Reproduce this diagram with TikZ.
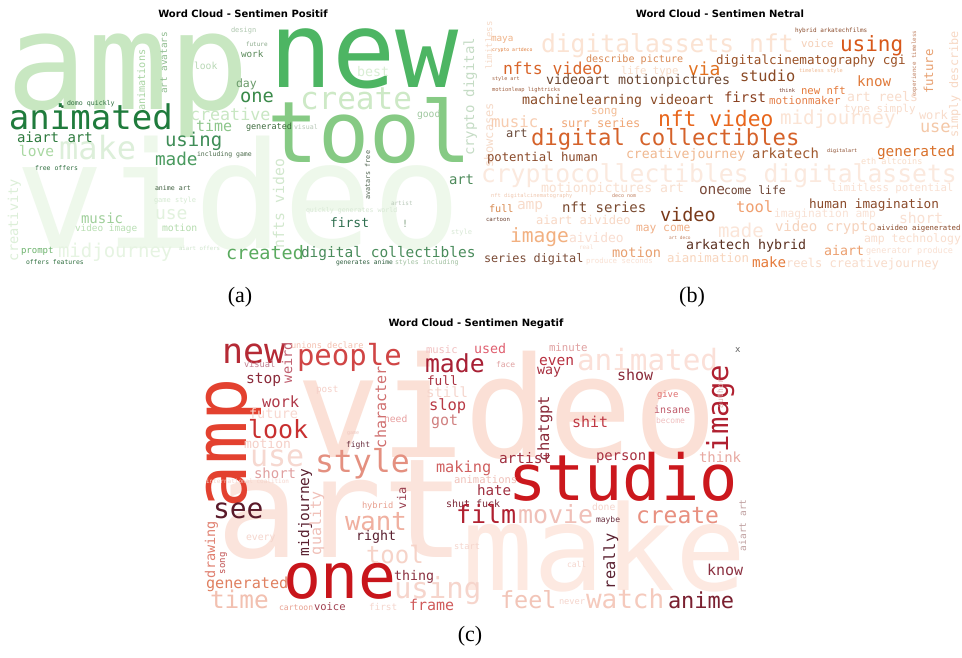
\documentclass[tikz,border=0pt]{standalone}
\usepackage{fontspec}
\setmainfont{Liberation Serif}
\newfontfamily\wcfont{DejaVu Sans Mono}
\newfontfamily\titlefont{DejaVu Sans}
\newcount\wcn
\tikzset{
  wordnode/.style={inner sep=0pt, outer sep=0pt, anchor=base west},
  titlestyle/.style={inner sep=0pt, font={\titlefont\bfseries\fontsize{10}{10}\selectfont}, text=black},
  capstyle/.style={inner sep=0pt, font={\fontsize{22}{22}\selectfont}, text=black}
}
\newcommand{\wc}[6][0]{%
  \global\advance\wcn by 1
  \definecolor{wctmp}{HTML}{#5}%
  \node[wordnode, rotate=#1, text=wctmp, font={\wcfont\fontsize{#4}{#4}\selectfont}] (w\the\wcn) at (#2,#3) {#6};}
\begin{document}
\begin{tikzpicture}[x=1pt,y=-1pt]
\fill[white] (0,0) rectangle (962,658);
\useasboundingbox (0,0) rectangle (962,658);
% ---------------- (a) positive ----------------
\wc{16}{248}{148}{EEF8EB}{video}
\wc{6}{110}{135}{C8E7C1}{amp}
\wc{269}{88}{105}{4DB563}{new}
\wc{267}{163}{85}{86CA84}{tool}
\wc{59}{160}{32}{DDEFDA}{make}
\wc{300}{110}{31}{CDE9C6}{create}
\wc{58}{257}{19}{E6F4E2}{midjourney}
\wc{155}{220}{18}{E2F2DE}{use}
\wc{9}{130}{34}{1F7B3C}{animated}
\wc{190}{121}{16.7}{C9E7C3}{creative}
\wc{196}{132}{15}{8DC68B}{time}
\wc{165}{147}{19}{3F8D57}{using}
\wc{155}{166}{17.7}{4A9A5F}{made}
\wc{17}{143}{14}{2D7A3D}{aiart art}
\wc{19}{157}{14.6}{A9D8A2}{love}
\wc{240}{103}{18.7}{3A8A4A}{one}
\wc{236}{88}{11.5}{6A9A6A}{day}
\wc{241}{58}{9.3}{5A8A5A}{work}
\wc{246}{47}{6}{8AA98A}{future}
\wc{231}{33}{7}{B0C8B0}{design}
\wc{194}{70}{9.7}{B8D8B5}{look}
\wc{357}{77}{13.3}{D9EED4}{best}
\wc{417}{118}{9.7}{A0C8A0}{good}
\wc[90]{474}{156}{14}{C5DCC5}{crypto digital}
\wc[90]{167}{94}{9.4}{8FBC8F}{art avatars}
\wc[90]{145}{111}{10.2}{A8D4A2}{animations}
\wc{67}{106}{6.6}{2F6F3F}{domo quickly}
\wc{57}{109}{18}{2F6F3F}{.}
\wc{35}{171}{6.5}{2F6F3F}{free offers}
\wc{197}{157}{6.5}{4A6A4A}{including game}
\wc[90]{18}{261}{13.6}{DCEFD8}{creativity}
\wc{81}{223}{14}{9FCF9A}{music}
\wc{75}{232}{9.4}{B9DFB3}{video image}
\wc{162}{231}{9.8}{B5DCAE}{motion}
\wc{155}{190}{6.6}{3F5F3F}{anime art}
\wc{154}{203}{7}{D5EAD2}{game style}
\wc{21}{253}{9}{6DB36D}{prompt}
\wc{26}{265}{6.4}{2F6F3F}{offers features}
\wc{179}{251}{5.7}{CFE5CC}{aiart offers}
\wc{246}{130}{8.5}{3D6B3D}{generated}
\wc{294}{130}{6.6}{B8C8B8}{visual}
\wc[90]{284}{248}{14.8}{D2E8CE}{nfts video}
\wc[90]{370}{200}{6.8}{4F634F}{avatars free}
\wc{449}{185}{13.9}{4D8A5A}{art}
\wc{391}{206}{6}{B8C8B8}{artist}
\wc{306}{213}{6.6}{D8E8D5}{quickly generates world}
\wc{330}{227}{13}{2F6F4F}{first}
\wc{402}{227}{10}{8AA88A}{!}
\wc{451}{234}{7}{D8E8D5}{style}
\wc{226}{259}{18.5}{5AAA5F}{created}
\wc{301}{258}{14.5}{4A8C5C}{digital collectibles}
\wc{336}{264}{6.3}{2F5F3F}{generates anime}
\wc{395}{264}{6.6}{A0C0A0}{styles including}
% ---------------- (b) neutral ----------------
\wc{481}{183}{24.7}{FBE9DE}{cryptocollectibles digitalassets}
\wc{541}{53}{24.7}{FBE3D3}{digitalassets nft}
\wc[90]{492}{70}{9}{F6DAC8}{limitless}
\wc[90]{493}{168}{12}{F6DAC8}{showcases}
\wc{491}{42}{9.3}{F0B48A}{maya}
\wc{492}{52}{4.8}{E08040}{crypto artdeco}
\wc{586}{63}{10.1}{D98A55}{describe picture}
\wc{503}{75}{16.5}{D9652A}{nfts video}
\wc{621}{75}{10.6}{F8DCC8}{life type}
\wc{688}{76}{18}{E0701F}{via}
\wc{492}{81}{5.1}{A06040}{style art}
\wc{492}{92}{5.4}{A06040}{motionleap lightricks}
\wc{546}{85}{13.3}{6B4530}{videoart motionpictures}
\wc{522}{105}{13.3}{8A4A25}{machinelearning videoart}
\wc{591}{115}{11}{F4BD95}{song}
\wc{491}{128}{15.7}{F7CCB0}{music}
\wc{561}{128}{12}{F0A878}{surr series}
\wc{658}{127}{21.3}{E8661C}{nft video}
\wc{506}{138}{12}{6A4A3A}{art}
\wc{531}{146}{22.3}{D5622A}{digital collectibles}
\wc{795}{33}{6}{8A4A2A}{hybrid arkatechfilms}
\wc{801}{48}{10.8}{F5D0B8}{voice}
\wc{840}{52}{21}{D8581A}{using}
\wc[90]{916}{97}{5.8}{C08060}{experience timeless}
\wc[90]{933}{94}{12.4}{E8A070}{future}
\wc[90]{958}{138}{11.8}{F7D8C4}{simply describe}
\wc{716}{65}{12.6}{9A5025}{digitalcinematography cgi}
\wc{799}{73}{5.2}{F0B890}{timeless style}
\wc{740}{82}{15.3}{8A4A25}{studio}
\wc{857}{87}{14.2}{E07A3A}{know}
\wc{779}{93}{5.3}{7A4030}{think}
\wc{801}{95}{10.6}{E57A3A}{new nft}
\wc{847}{102}{13.1}{F8DCCB}{art reels}
\wc{724}{103}{14}{8A4020}{first}
\wc{769}{105}{10.8}{E5804A}{motionmaker}
\wc{844}{113}{10.8}{F8DCCB}{type simply}
\wc{780}{125}{19.2}{FBE4D5}{midjourney}
\wc{919}{120}{12}{F8DCCB}{work}
\wc{920}{133}{17}{F4C8A8}{use}
\wc{487}{162}{12.3}{8A4A2A}{potential human}
\wc{626}{159}{13.2}{F0B890}{creativejourney}
\wc{752}{159}{13.9}{A05A30}{arkatech}
\wc{827}{153}{5}{8A4A2A}{digitalart}
\wc{877}{157}{14.4}{D9702A}{generated}
\wc{861}{165}{8.5}{F8DCC8}{eth altcoins}
\wc{541}{193}{13.2}{F8DFCF}{motionpictures art}
\wc{699}{195}{14.5}{7A4A3A}{one}
\wc{724}{195}{11.4}{6A4030}{come life}
\wc{831}{192}{10.7}{F9E0D2}{limitless potential}
\wc{491}{198}{5.4}{F0C8B0}{nft digitalcinematography}
\wc{612}{198}{5}{C08060}{deco nom}
\wc{489}{212}{10.2}{D88A50}{full}
\wc{517}{210}{14.5}{F8DCCB}{amp}
\wc{562}{213}{14}{7A4A30}{nft series}
\wc{660}{222}{18.5}{7A3A1A}{video}
\wc{736}{212}{15.5}{F0A070}{tool}
\wc{809}{208}{12.7}{8A4A2A}{human imagination}
\wc{486}{222}{5.7}{6A4030}{cartoon}
\wc{536}{225}{12.1}{F8D8C5}{aiart aivideo}
\wc{774}{218}{11.3}{F9E2D5}{imagination amp}
\wc{899}{223}{14.7}{F9E0D2}{short}
\wc{636}{232}{11.3}{F0B088}{may come}
\wc{718}{237}{19}{FBE5D8}{made}
\wc{775}{232}{14.1}{F6D3BD}{video crypto}
\wc{877}{230}{7.3}{8A4A2A}{aivideo aigenerated}
\wc{510}{243}{19.6}{F2B080}{image}
\wc{569}{243}{13}{F9DDD0}{aivideo}
\wc{669}{240}{4.5}{C08060}{art deco}
\wc{864}{243}{11.5}{F9DECE}{amp technology}
\wc{686}{250}{13.3}{5A3020}{arkatech hybrid}
\wc{824}{255}{13.3}{ECA070}{aiart}
\wc{866}{253}{8.5}{F9E0D2}{generator produce}
\wc{579}{250}{6}{F9E0D2}{real}
\wc{612}{258}{13.6}{E8A070}{motion}
\wc{484}{262}{11.8}{7A4A35}{series digital}
\wc{586}{263}{7.4}{F9E0D2}{produce seconds}
\wc{667}{262}{12.4}{F8D5BD}{aianimation}
\wc{752}{267}{14.2}{E57A3A}{make}
\wc{786}{267}{12.1}{F8DCCB}{reels creativejourney}
% ---------------- (c) negative ----------------
\wc{296}{457}{140}{FBE0D6}{video}
\wc{216}{557}{138}{FBE4DC}{art}
\wc{462}{590}{118}{FDE9E1}{make}
\wc{508}{500}{63.6}{CB181D}{studio}
\wc{283}{598}{63}{C8151B}{one}
\wc[90]{246}{508}{72}{E3412F}{amp}
\wc{222}{363}{35}{B52A35}{new}
\wc[90]{292}{383}{13.6}{C06070}{weird}
\wc{291}{348}{8.6}{F4C0B0}{unions declare}
\wc{297}{365}{29}{D04545}{people}
\wc{244}{367}{8.7}{C08090}{visual}
\wc{246}{383}{14.6}{8A2A3A}{stop}
\wc{316}{392}{9.3}{F5D0C8}{post}
\wc[90]{386}{448}{15}{D07070}{character}
\wc{262}{407}{15.5}{B03A4A}{work}
\wc{249}{418}{13.6}{F8D8D0}{future}
\wc{384}{422}{9.7}{E8A0A0}{need}
\wc{248}{438}{25}{C83030}{look}
\wc{244}{448}{13}{F5D0C8}{motion}
\wc{346}{447}{8}{6A3040}{fight}
\wc{347}{434}{5}{F0C8C0}{game}
\wc{250}{466}{30}{F6D8D0}{use}
\wc{315}{472}{31.5}{E49080}{style}
\wc{425}{372}{24.8}{A82035}{made}
\wc{426}{353}{10.5}{F2C0C0}{music}
\wc{474}{353}{13.3}{E06070}{used}
\wc{549}{351}{10.7}{E0A0A0}{minute}
\wc{496}{367}{8}{E0A0A0}{face}
\wc{539}{365}{14.6}{B83040}{even}
\wc{537}{374}{13.3}{A83040}{way}
\wc{577}{370}{29.3}{FBE0D8}{animated}
\wc{735}{352}{9}{606060}{x}
\wc{427}{385}{12.8}{A83040}{full}
\wc{426}{397}{14}{F5D5CC}{still}
\wc{429}{410}{15.5}{B83A45}{slop}
\wc{431}{425}{15}{D08080}{got}
\wc{617}{380}{15}{8A2A3A}{show}
\wc[90]{728}{452}{29}{B02030}{image}
\wc[90]{723}{408}{8}{E0B0B0}{author}
\wc[90]{549}{461}{15.5}{8A2A3A}{chatgpt}
\wc{572}{427}{15}{C03A45}{shit}
\wc{657}{397}{8.9}{E07070}{give}
\wc{654}{413}{10}{C05A6A}{insane}
\wc{656}{423}{8}{F0C0C0}{become}
\wc{596}{460}{13.9}{A83040}{person}
\wc{699}{462}{14}{E8A8A0}{think}
\wc{499}{463}{14.5}{A03040}{artist}
\wc{436}{472}{15.3}{D06060}{making}
\wc{254}{478}{14}{E0A0A0}{short}
\wc{206}{483}{6}{F5D5CC}{international coalition}
\wc[90]{309}{556}{14.5}{5A2030}{midjourney}
\wc[90]{321}{555}{15}{F0C0B8}{quality}
\wc{213}{518}{28}{5A1A2A}{see}
\wc{345}{530}{25.7}{F0B0A0}{want}
\wc{362}{508}{8.7}{E8A090}{hybrid}
\wc[90]{406}{509}{12}{9A4050}{via}
\wc{356}{540}{13.3}{5A2030}{right}
\wc[90]{215}{578}{13.5}{E08070}{drawing}
\wc[90]{225}{574}{9}{C05050}{song}
\wc{246}{540}{9.8}{F5D5CC}{every}
\wc{366}{563}{24}{F6D3C8}{tool}
\wc{454}{549}{8.7}{F5D5CC}{start}
\wc{206}{588}{15.2}{E08060}{generated}
\wc{210}{608}{24.4}{F2C0B0}{time}
\wc{394}{580}{13.3}{8A3040}{thing}
\wc{394}{598}{29}{F6D5CC}{using}
\wc{279}{610}{8.1}{E8A090}{cartoon}
\wc{314}{610}{10.5}{A04050}{voice}
\wc{369}{610}{9.4}{F5D5CC}{first}
\wc{409}{610}{15}{D05A5A}{frame}
\wc{454}{483}{10.5}{F0C0B8}{animations}
\wc{477}{495}{14.2}{A03040}{hate}
\wc{446}{507}{10}{7A2535}{shut fuck}
\wc{456}{523}{25}{B02030}{film}
\wc{518}{523}{25}{F0C0B8}{movie}
\wc{592}{510}{9.7}{F5D5CC}{done}
\wc{596}{522}{8}{6A3040}{maybe}
\wc{636}{523}{23}{E89080}{create}
\wc[90]{746}{551}{9.5}{C0A0A0}{aiart art}
\wc[90]{615}{589}{15.3}{5A2030}{really}
\wc{567}{567}{8}{F5D5CC}{call}
\wc{707}{575}{15}{8A3040}{know}
\wc{500}{608}{23.5}{F2C5B8}{feel}
\wc{559}{604}{8.7}{F5D5CC}{never}
\wc{586}{608}{26}{F5CABD}{watch}
\wc{668}{608}{22}{7A2030}{anime}
% ---------------- titles and captions ----------------
\node[titlestyle] (t1) at (243,14) {Word Cloud - Sentimen Positif};
\node[titlestyle] (t2) at (720,14) {Word Cloud - Sentimen Netral};
\node[titlestyle] (t3) at (476,324) {Word Cloud - Sentimen Negatif};
\node[capstyle] (ca) at (240,297) {(a)};
\node[capstyle] (cb) at (692,297) {(b)};
\node[capstyle] (cc) at (470,636) {(c)};
\end{tikzpicture}
\end{document}
